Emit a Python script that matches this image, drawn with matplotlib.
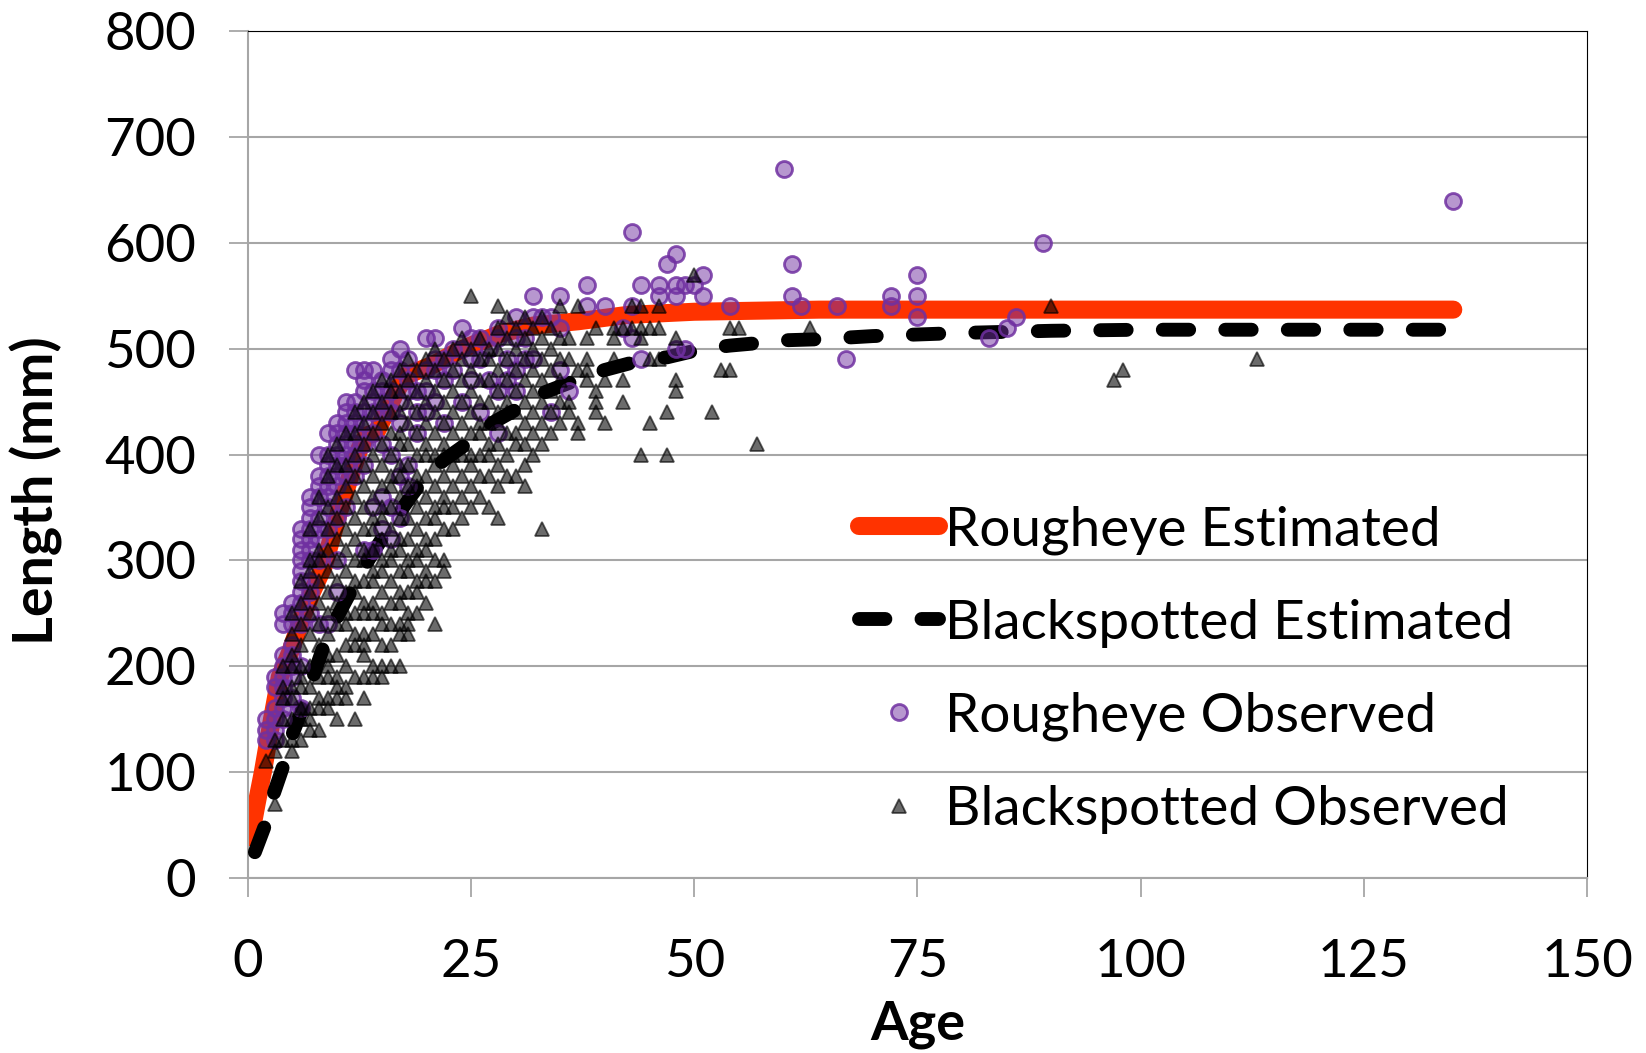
import matplotlib
matplotlib.use("Agg")
import matplotlib.pyplot as plt
import numpy as np

plt.rcParams['font.family'] = ['Lato', 'DejaVu Sans']

# fitted growth curves
rough_est_age = [0.3, 1.0, 1.7, 2.7, 3.6, 4.7, 6.0, 7.2, 8.5, 10.2, 11.5, 12.5, 13.3,
                 14.4, 15.5, 16.7, 17.8, 20.8, 23.8, 28.2, 32, 37, 42.5, 50, 64, 80,
                 100, 120, 135]
rough_est_len = [38, 70, 100, 149, 190, 212, 244, 270, 294, 345, 380, 405, 418,
                 421, 440, 461, 475, 485, 499, 514, 522, 526, 532, 535, 537, 537,
                 537, 537, 537]

black_est_age = [0.8, 2.1, 2.9, 4.2, 4.9, 6.4, 7.0, 8.8, 10, 12, 13.5, 15.6, 18.4,
                 20, 22, 25, 27, 31, 33, 37, 40, 44, 47, 51, 54, 58, 60, 64, 70,
                 80, 90, 100, 135]
black_est_len = [24, 53, 79, 111, 133, 166, 182, 226, 246, 278, 300, 328, 362,
                 380, 395, 413, 428, 447, 458, 471, 480, 489, 492, 500, 503, 506,
                 508, 509, 512, 515, 517, 518, 518]

# observed lengths (mm) by age (years)
rough_obs = {
    2: [130, 140, 150],
    3: [130, 140, 150, 160, 180, 190],
    4: [150, 160, 170, 180, 190, 200, 210, 240, 250],
    5: [170, 190, 200, 210, 220, 240, 250, 260],
    6: [160, 200, 240, 260, 270, 280, 290, 300, 310, 320, 330],
    7: [250, 270, 280, 300, 310, 320, 330, 340, 350, 360],
    8: [240, 300, 320, 330, 340, 360, 370, 380, 400],
    9: [240, 330, 350, 360, 370, 380, 390, 400, 420],
    10: [270, 300, 340, 370, 380, 390, 400, 410, 420, 430],
    11: [350, 380, 390, 400, 410, 420, 430, 440, 450],
    12: [380, 400, 410, 420, 430, 440, 450, 480],
    13: [310, 390, 410, 430, 440, 460, 470, 480],
    14: [310, 350, 420, 440, 450, 460, 480],
    15: [330, 360, 410, 440, 450, 460, 470],
    16: [320, 350, 400, 440, 460, 480, 490],
    17: [340, 380, 430, 450, 480, 500],
    18: [370, 390, 460, 470, 490],
    19: [420, 440, 460],
    20: [440, 460, 480, 510],
    21: [450, 480, 490, 510],
    22: [430, 470, 490],
    23: [480, 500],
    24: [450, 500, 520],
    25: [470, 490, 510],
    26: [440, 490, 510],
    27: [470, 500],
    28: [420, 460, 510, 520],
    29: [470, 490],
    30: [460, 480, 510, 530],
    31: [490, 510],
    32: [490, 530, 550],
    33: [530],
    34: [440, 530],
    35: [480, 520, 550],
    36: [460],
    38: [540, 560],
    40: [540],
    42: [520],
    43: [510, 540, 610],
    44: [490, 560],
    46: [550, 560],
    47: [580],
    48: [500, 550, 560, 590],
    49: [500, 560],
    50: [560],
    51: [550, 570],
    54: [540],
    60: [670],
    61: [550, 580],
    62: [540],
    66: [540],
    67: [490],
    72: [540, 550],
    75: [530, 550, 570],
    83: [510],
    85: [520],
    86: [530],
    89: [600],
    135: [640],
}

black_obs = {
    2: [110],
    3: [70, 120, 130],
    4: [130, 150, 170, 180, 200],
    5: [120, 130, 150, 170, 180, 200, 210, 230, 250],
    6: [130, 150, 160, 180, 190, 200, 220, 240, 260, 280],
    7: [140, 150, 160, 180, 200, 230, 250, 270, 290, 300, 330],
    8: [140, 160, 170, 190, 210, 220, 240, 260, 280, 300, 310, 340, 360],
    9: [160, 170, 190, 200, 210, 230, 250, 270, 290, 310, 330, 350, 380, 400],
    10: [150, 170, 180, 190, 210, 240, 260, 280, 300, 320, 340, 360, 390, 410],
    11: [170, 180, 200, 220, 240, 250, 270, 290, 310, 330, 350, 370, 390, 420],
    12: [150, 190, 220, 230, 250, 270, 280, 300, 320, 340, 360, 380, 400, 420, 440],
    13: [170, 190, 210, 220, 230, 250, 260, 280, 300, 310, 330, 350, 370, 390, 410,
         430, 450],
    14: [190, 200, 230, 250, 260, 280, 290, 310, 330, 340, 360, 380, 400, 420, 440, 460],
    15: [190, 200, 220, 240, 250, 270, 290, 300, 320, 340, 350, 370, 390, 410, 430,
         450, 470],
    16: [200, 220, 240, 260, 280, 300, 310, 330, 350, 370, 380, 400, 420, 440, 460, 470],
    17: [200, 230, 240, 260, 270, 290, 310, 320, 340, 360, 380, 390, 410, 420, 440,
         460, 480],
    18: [230, 240, 250, 270, 290, 300, 320, 340, 360, 370, 390, 410, 430, 450, 470, 490],
    19: [250, 270, 280, 300, 310, 330, 350, 370, 380, 400, 420, 440, 460, 480],
    20: [260, 280, 290, 310, 320, 340, 360, 380, 400, 410, 430, 450, 470, 490],
    21: [240, 280, 300, 320, 340, 350, 370, 390, 400, 420, 440, 460, 480, 500],
    22: [290, 300, 330, 350, 360, 380, 400, 410, 430, 450, 470, 490],
    23: [330, 350, 370, 390, 400, 420, 440, 460, 480, 500],
    24: [340, 360, 380, 400, 410, 430, 450, 470, 490, 510],
    25: [350, 370, 390, 400, 420, 440, 460, 480, 500, 550],
    26: [360, 380, 400, 420, 430, 450, 470, 490, 510],
    27: [350, 380, 400, 410, 430, 450, 470, 490, 500],
    28: [340, 370, 390, 410, 430, 440, 460, 480, 500, 520, 540],
    29: [380, 400, 420, 440, 450, 470, 490, 510, 530],
    30: [380, 410, 420, 440, 460, 480, 500, 520],
    31: [370, 390, 410, 430, 450, 470, 490, 510, 530],
    32: [400, 420, 440, 460, 480, 500, 520],
    33: [330, 410, 430, 450, 470, 490, 510, 530],
    34: [420, 440, 460, 480, 500, 520],
    35: [430, 450, 470, 490, 510, 540],
    36: [440, 450, 490, 510],
    37: [420, 430, 480, 540],
    38: [470, 480, 490, 510],
    39: [440, 450, 460, 520],
    40: [430, 470],
    41: [490, 510, 520],
    42: [450, 470, 520],
    43: [520, 540],
    44: [400, 510, 520, 540],
    45: [430, 490, 520],
    46: [490, 520, 540],
    47: [400, 440],
    48: [460, 470, 510],
    50: [570],
    52: [440],
    53: [480],
    54: [480, 520],
    55: [520],
    57: [410],
    63: [520],
    90: [540],
    97: [470],
    98: [480],
    113: [490],
}

x_ticks = [0, 25, 50, 75, 100, 125, 150]
y_ticks = [0, 100, 200, 300, 400, 500, 600, 700, 800]


def flatten(obs):
    ages, lens = [], []
    for a, vals in obs.items():
        for v in vals:
            ages.append(a)
            lens.append(v)
    return np.array(ages), np.array(lens)


grid_col = '#A6A6A6'

fig = plt.figure(figsize=(16.46, 10.53), dpi=100)
ax = fig.add_axes([0.1505, 0.1666, 0.8138, 0.8035])

ax.plot(rough_est_age, rough_est_len, color='#FF3300', lw=13,
        solid_capstyle='round', solid_joinstyle='round',
        label='Rougheye Estimated', zorder=2)
ax.plot(black_est_age, black_est_len, color='black', lw=10,
        linestyle=(0, (1.9, 2.6)), dash_capstyle='round',
        dash_joinstyle='round', label='Blackspotted Estimated', zorder=3)

ra, rl = flatten(rough_obs)
ax.plot(ra, rl, linestyle='none', marker='o', ms=11.5,
        mfc=(0.44, 0.19, 0.63, 0.5), mec=(0.44, 0.19, 0.63, 0.85), mew=2,
        label='Rougheye Observed', zorder=4)
ba, bl = flatten(black_obs)
ax.plot(ba, bl, linestyle='none', marker='^', ms=10,
        mfc=(0, 0, 0, 0.58), mec=(0, 0, 0, 0.62), mew=1.3,
        label='Blackspotted Observed', zorder=5)

ax.set_xlim(0, 150)
ax.set_ylim(0, 800)
ax.set_xticks(x_ticks)
ax.set_yticks(y_ticks)
ax.grid(axis='y', color=grid_col, lw=1.5)
ax.set_axisbelow(True)

ax.tick_params(axis='both', direction='out', length=14, width=1.3,
               color=grid_col, labelsize=38)
ax.tick_params(axis='x', pad=30)
ax.tick_params(axis='y', pad=23)

for s in ['left', 'bottom']:
    ax.spines[s].set_color(grid_col)
    ax.spines[s].set_linewidth(1.5)
for s in ['top', 'right']:
    ax.spines[s].set_color('black')
    ax.spines[s].set_linewidth(0.8)

ax.set_xlabel('Age', fontsize=39, fontweight='bold')
ax.set_ylabel('Length (mm)', fontsize=40, fontweight='bold')
ax.xaxis.set_label_coords(0.5, -0.145)
ax.yaxis.set_label_coords(-0.138, 0.457)

ax.legend(loc='upper left', bbox_to_anchor=(0.4565, 0.44), frameon=False,
          fontsize=39.5, handlelength=1.46, handletextpad=0.1,
          labelspacing=0.8, borderpad=0, borderaxespad=0)

fig.savefig('out.png', dpi=100)
